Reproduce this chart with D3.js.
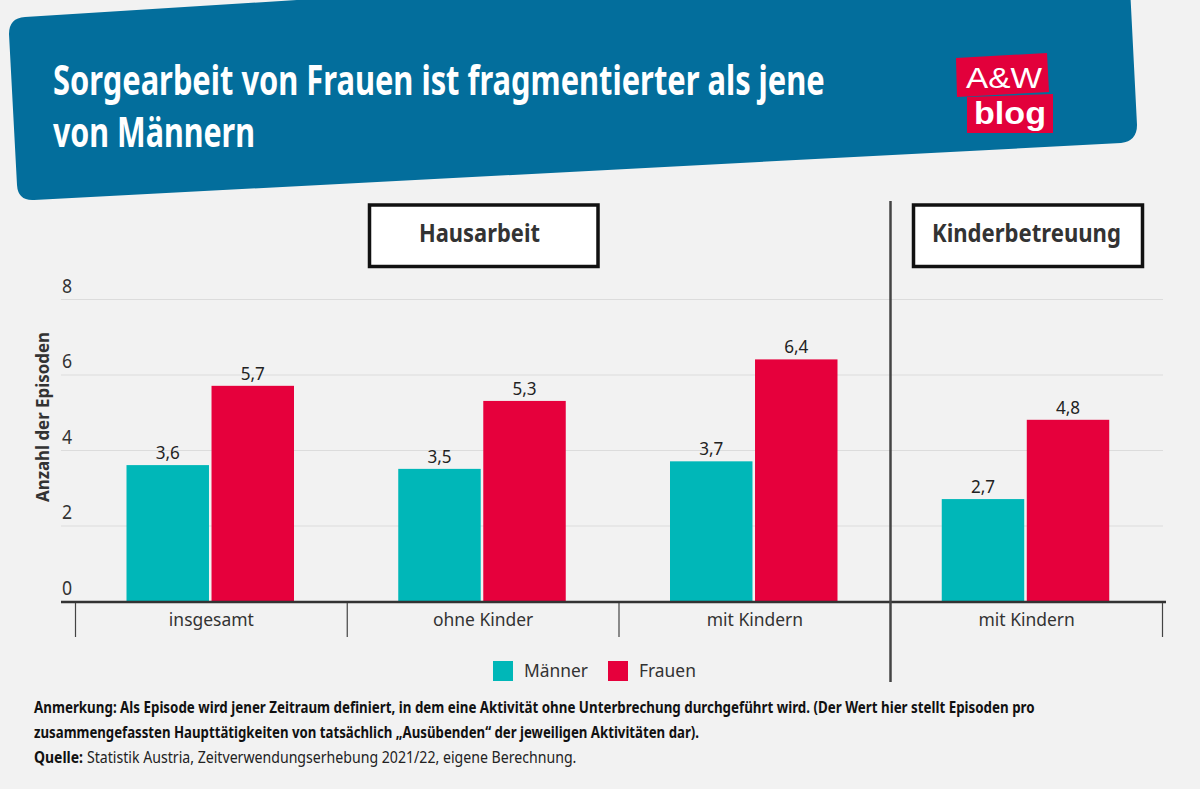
<!DOCTYPE html>
<html>
<head>
<meta charset="utf-8">
<script src="https://d3js.org/d3.v7.min.js"></script>
<style>
  html, body { margin: 0; background: #f2f2f2; }
  svg { display: block; font-family: "Noto Sans", sans-serif; }
</style>
</head>
<body>
<svg width="1200" height="789"></svg>
<script>
// chart data
const categories = ["insgesamt", "ohne Kinder", "mit Kindern", "mit Kindern"]
const seriesNames = ["Männer", "Frauen"]
const maenner = [3.6, 3.5, 3.7, 2.7]
const frauen = [5.7, 5.3, 6.4, 4.8]
const yTicks = [0, 2, 4, 6, 8]

const colors = ["#00b7b8", "#e6003c"]
const ink = "#333333"

const svg = d3.select("svg")
const comma = d3.formatLocale({ decimal: ",", thousands: ".", grouping: [3], currency: ["", "€"] }).format(".1f")

// text squeezed to the width it has in the picture (PT Sans is not installed)
function fitText(parent, str, x, y, width, size, weight, fill, family) {
    const t = parent.append("text")
        .attr("font-size", size)
        .attr("font-weight", weight)
        .attr("font-family", family || "Noto Sans")
        .attr("fill", fill)
        .text(str)
    const natural = t.node().getComputedTextLength()
    t.attr("transform", "translate(" + x + "," + y + ") scale(" + (width / natural) + ",1)")
    return t
}

// same narrowing for texts that are already placed
function narrow(selection, factor) {
    selection.each(function () {
        d3.select(this)
            .attr("textLength", this.getComputedTextLength() * factor)
            .attr("lengthAdjust", "spacingAndGlyphs")
    })
}

// header
svg.append("path")
    .attr("d", "M9,34 Q9,18 25,17 L1128,-52 L1137,125 Q1137,141 1121,143 L34,200 Q18,201 17,185 Z")
    .attr("fill", "#036e9c")

fitText(svg, "Sorgearbeit von Frauen ist fragmentierter als jene", 53, 95, 772, 41, 700, "#ffffff")
fitText(svg, "von Männern", 53, 147, 202, 41, 700, "#ffffff")

// logo
svg.append("path").attr("d", "M956,58 L1047,53 L1049,92 L957,97 Z").attr("fill", "#e2003b")
svg.append("path").attr("d", "M967,97 L1053,94 L1053,133 L967,133 Z").attr("fill", "#e2003b")
fitText(svg, "A&W", 966, 88, 76, 30, 400, "#ffffff", "Liberation Sans")
fitText(svg, "blog", 974, 124, 72, 32, 700, "#ffffff", "Liberation Sans")

// scales
const x = d3.scaleBand()
    .domain(d3.range(categories.length))
    .range([75.5, 1162.5])

const xSeries = d3.scaleBand()
    .domain(seriesNames)
    .range([51, 218.5])
    .paddingInner(0.03)

const y = d3.scaleLinear()
    .domain([0, 8])
    .range([601, 299])

// grid and y labels
const yAxis = svg.append("g")
    .attr("transform", "translate(61,0)")
    .call(d3.axisRight(y).tickValues(yTicks).tickSize(1102).tickFormat(d => d))
yAxis.select(".domain").remove()
yAxis.selectAll("line").attr("stroke", "#dcdcdc").attr("stroke-width", 1)
yAxis.selectAll("text")
    .attr("x", 1)
    .attr("dy", -7)
    .attr("font-size", 19)
    .attr("font-family", "Noto Sans")
    .attr("fill", ink)
    .attr("text-anchor", "start")
    .call(narrow, 0.93)

const yTitle = svg.append("g").attr("transform", "translate(49,502) rotate(-90)")
fitText(yTitle, "Anzahl der Episoden", 0, 0, 170, 18, 700, ink)

// bars
const groups = svg.selectAll("g.cat")
    .data(categories)
    .enter()
    .append("g")
    .attr("class", "cat")
    .attr("transform", (d, i) => "translate(" + x(i) + ",0)")

const seriesValues = [maenner, frauen]
seriesNames.forEach((name, s) => {
    groups.append("rect")
        .attr("x", xSeries(name))
        .attr("width", xSeries.bandwidth())
        .attr("y", (d, i) => y(seriesValues[s][i]))
        .attr("height", (d, i) => y(0) - y(seriesValues[s][i]))
        .attr("fill", colors[s])

    groups.append("text")
        .attr("x", xSeries(name) + xSeries.bandwidth() / 2)
        .attr("y", (d, i) => y(seriesValues[s][i]) - 6)
        .attr("text-anchor", "middle")
        .attr("font-size", 18)
        .attr("font-family", "Noto Sans")
        .attr("fill", "#222222")
        .text((d, i) => comma(seriesValues[s][i]))
        .call(narrow, 0.95)
})

// x axis
const xAxis = svg.append("g")
    .attr("transform", "translate(0,602)")
    .call(d3.axisBottom(x).tickSize(0).tickPadding(11).tickFormat(i => categories[i]))
xAxis.select(".domain").remove()
xAxis.selectAll("text")
    .attr("font-size", 18)
    .attr("font-family", "Noto Sans")
    .attr("fill", ink)
    .call(narrow, 0.97)

svg.append("line")
    .attr("x1", 61).attr("x2", 1166)
    .attr("y1", 602).attr("y2", 602)
    .attr("stroke", "#333333")
    .attr("stroke-width", 2.5)

// separators between the categories
svg.selectAll("line.sep")
    .data(d3.range(categories.length + 1).filter(i => i !== 3))
    .enter()
    .append("line")
    .attr("class", "sep")
    .attr("x1", i => x.range()[0] + i * x.step())
    .attr("x2", i => x.range()[0] + i * x.step())
    .attr("y1", 603)
    .attr("y2", 637)
    .attr("stroke", "#444444")
    .attr("stroke-width", 1.2)

svg.append("line")
    .attr("x1", 890.5).attr("x2", 890.5)
    .attr("y1", 201).attr("y2", 682)
    .attr("stroke", "#444444")
    .attr("stroke-width", 2.5)

// panel boxes
const panels = svg.selectAll("g.panel")
    .data([
        { label: "Hausarbeit", x: 369.5, w: 228.5, tx: 419, tw: 121 },
        { label: "Kinderbetreuung", x: 913.5, w: 229, tx: 932, tw: 189 }
    ])
    .enter()
    .append("g")
    .attr("class", "panel")

panels.append("rect")
    .attr("x", d => d.x)
    .attr("y", 205)
    .attr("width", d => d.w)
    .attr("height", 61.5)
    .attr("fill", "#ffffff")
    .attr("stroke", "#111111")
    .attr("stroke-width", 3.5)

panels.each(function (d) {
    fitText(d3.select(this), d.label, d.tx, 242, d.tw, 25, 700, ink)
})

// legend
const legendX = [493, 608]
const legendW = [64, 57]
seriesNames.forEach((name, s) => {
    svg.append("rect")
        .attr("x", legendX[s])
        .attr("y", 661)
        .attr("width", 20)
        .attr("height", 20)
        .attr("fill", colors[s])
    fitText(svg, name, legendX[s] + 31, 677, legendW[s], 18, 400, ink)
})

// footnotes
fitText(svg, "Anmerkung: Als Episode wird jener Zeitraum definiert, in dem eine Aktivität ohne Unterbrechung durchgeführt wird. (Der Wert hier stellt Episoden pro", 34, 713, 1002, 16, 700, "#111111")
fitText(svg, "zusammengefassten Haupttätigkeiten von tatsächlich „Ausübenden“ der jeweiligen Aktivitäten dar).", 34, 738, 666, 16, 700, "#111111")
fitText(svg, "Quelle:", 34, 763, 49, 16, 700, "#111111")
fitText(svg, "Statistik Austria, Zeitverwendungserhebung 2021/22, eigene Berechnung.", 87, 763, 490, 16, 400, "#222222")
</script>
</body>
</html>
